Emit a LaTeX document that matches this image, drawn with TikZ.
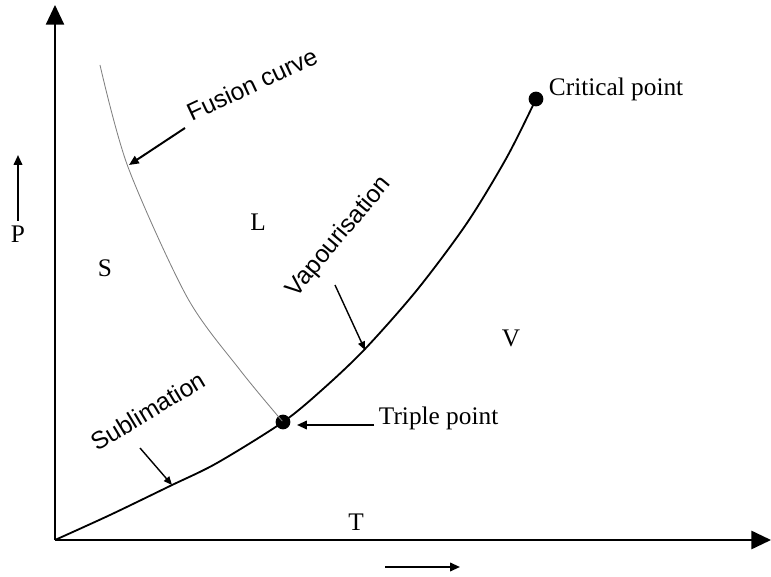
\documentclass[tikz,border=0pt]{standalone}
\usepackage{fontspec}
\setmainfont{Liberation Serif}
\newfontfamily\labelfont{Liberation Sans}
\usetikzlibrary{arrows.meta,positioning}

\begin{document}
\begin{tikzpicture}[
        x=0.025cm, y=-0.025cm,
        axis/.style={line width=1pt, -{Triangle[length=14pt,width=13pt]}},
        pointer/.style={line width=1.4pt, -{Triangle[length=7pt,width=6pt]}},
        thinpointer/.style={line width=1pt, -{Triangle[length=6pt,width=5pt]}},
        phase/.style={font=\fontsize{18}{21}\selectfont},
        tag/.style={font=\labelfont\fontsize{17.5}{21}\selectfont},
        dot/.style={circle, fill=black, inner sep=0pt, minimum size=10.5pt}
    ]
    \useasboundingbox (0,0) rectangle (771,577);

    % Axes
    \coordinate (origin) at (55,540);
    \coordinate (p-end) at (55,5);
    \coordinate (t-start) at (97,540);
    \coordinate (t-end) at (771,540);
    \draw[axis] (origin) -- (p-end);
    \draw[line width=1pt] (origin) -- (t-start);
    \draw[axis, line width=1.5pt] (t-start) -- (t-end);

    % Axis labels
    \node[phase] (p-label) at (18,234) {P};
    \coordinate (p-tip) at (18,155);
    \draw[pointer] (p-label.north) -- (p-tip);
    \node[phase] (t-label) at (356,522) {T};
    \coordinate (t-tail) at (385,567);
    \coordinate (t-tip) at (460,567);
    \draw[pointer] (t-tail) -- (t-tip);

    % Special points
    \node[dot] (triple) at (283,422) {};
    \node[dot] (critical) at (536,99) {};

    % Curves
    \draw[gray, line width=0.6pt] plot[smooth] coordinates {(283,422) (240,370) (187,297) (128,167) (100,65)};
    \draw[line width=1.3pt] plot[smooth] coordinates {(55,540) (110,515) (170,486) (217,463) (283,422) (323,389) (365,349) (417,290) (467,223) (507,157) (536,99)};

    % Phases
    \node[phase] (s-label) at (105,268) {S};
    \node[phase] (l-label) at (258,222) {L};
    \node[phase] (v-label) at (511,338) {V};

    % Curve names
    \node[tag, rotate=25] (fusion-label) at (252,84) {Fusion curve};
    \coordinate (fusion-tail) at (185,128);
    \coordinate (fusion-tip) at (129,165);
    \draw[pointer] (fusion-tail) -- (fusion-tip);

    \node[tag, rotate=50] (vap-label) at (339,237) {Vapourisation};
    \coordinate (vap-tail) at (335,285);
    \coordinate (vap-tip) at (365,350);
    \draw[thinpointer] (vap-tail) -- (vap-tip);

    \node[tag, rotate=31] (sub-label) at (148,411) {Sublimation};
    \coordinate (sub-tail) at (140,448);
    \coordinate (sub-tip) at (172,485);
    \draw[thinpointer] (sub-tail) -- (sub-tip);

    \node[phase, anchor=west] (triple-label) at (374,418) {Triple point};
    \coordinate (triple-tip) at (297,425);
    \draw[pointer] (triple-label.west |- triple-tip) -- (triple-tip);

    \node[phase, anchor=west] (critical-label) at (544,89) {Critical point};

\end{tikzpicture}
\end{document}
